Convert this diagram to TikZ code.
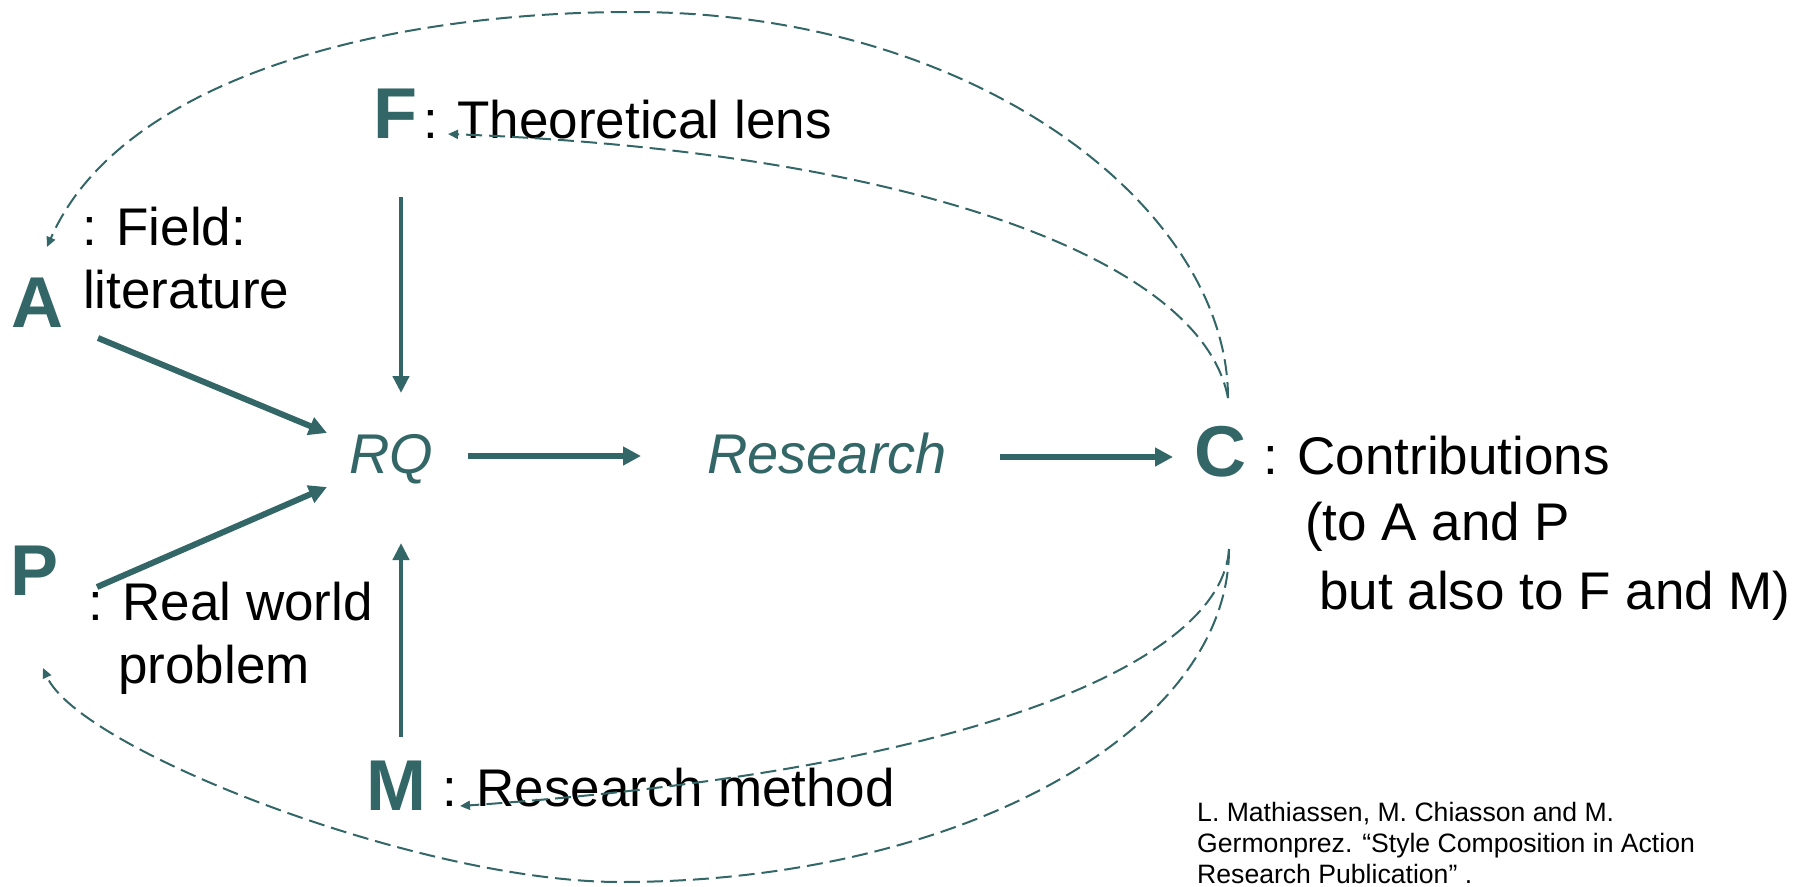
\documentclass[tikz,border=0pt]{standalone}
\usepackage{fontspec}
\setmainfont{Liberation Sans}
\usetikzlibrary{arrows.meta}
\definecolor{deepteal}{RGB}{51,102,102}
\begin{document}
\begin{tikzpicture}[x=1pt,y=-1pt,
  lbl/.style={anchor=base west,inner sep=0pt,font=\fontsize{53}{63}\selectfont,text=black},
  key/.style={anchor=base west,inner sep=0pt,font=\fontsize{72}{72}\selectfont\bfseries,text=deepteal},
  stage/.style={anchor=base west,inner sep=0pt,font=\fontsize{56}{60}\selectfont\itshape,text=deepteal},
  cite/.style={anchor=base west,inner sep=0pt,font=\fontsize{26.6}{31}\selectfont,text=black},
  flow/.style={draw=deepteal,line width=6pt,-{Triangle[length=18pt,width=18pt]}},
  feed/.style={draw=deepteal,line width=4.5pt,-{Triangle[length=17pt,width=16pt]}},
  back/.style={draw=deepteal,line width=2pt,dash pattern=on 16pt off 7pt,-{Triangle[length=10pt,width=9pt]}},
]
\useasboundingbox (0,0) rectangle (1801,886);

% key letters and their labels
\node[key] (F) at (373,138) {F};
\node[lbl] (Ft) at (423,138) {: Theoretical lens};
\node[key] (A) at (11,327) {A};
\node[lbl] (At1) at (82,245) {: Field:};
\node[lbl] (At2) at (83,308) {literature};
\node[key] (P) at (10,595) {P};
\node[lbl] (Pt1) at (88,620) {: Real world};
\node[lbl] (Pt2) at (118,683) {problem};
\node[key] (M) at (366,810) {M};
\node[lbl] (Mt) at (442,806) {: Research method};
\node[key] (C) at (1194,476) {C};
\node[lbl] (Ct1) at (1263,474) {: Contributions};
\node[lbl] (Ct2) at (1305,540) {(to A and P};
\node[lbl] (Ct3) at (1319,609) {but also to F and M)};

% central stages
\node[stage] (RQ) at (349,473) {RQ};
\node[stage] (R) at (707,473) {Research};

% citation
\node[cite] (ref1) at (1197,821) {L. Mathiassen, M. Chiasson and M.};
\node[cite] (ref2) at (1197,852) {Germonprez. “Style Composition in Action};
\node[cite] (ref3) at (1197,883) {Research Publication” .};

% connector ports
\coordinate (aOut) at (98,338);   \coordinate (rqA) at (327,433);
\coordinate (pOut) at (97,587);   \coordinate (rqP) at (327,487);
\coordinate (fOut) at (401,197);  \coordinate (rqF) at (401,393);
\coordinate (mOut) at (401,737);  \coordinate (rqM) at (401,543);
\coordinate (rqOut) at (468,456); \coordinate (resIn) at (641,456);
\coordinate (resOut) at (1000,457); \coordinate (cIn) at (1173,457);
\coordinate (cTop) at (1228,398); \coordinate (cBot) at (1229,549);
\coordinate (aIn) at (47,247);    \coordinate (fIn) at (448,134);
\coordinate (mIn) at (460,806);   \coordinate (pIn) at (43,668);

% main flow
\draw[flow] (aOut) -- (rqA);
\draw[flow] (pOut) -- (rqP);
\draw[feed] (fOut) -- (rqF);
\draw[feed] (mOut) -- (rqM);
\draw[flow] (rqOut) -- (resIn);
\draw[flow] (resOut) -- (cIn);

% contributions feeding back
\draw[back] (cTop) .. controls (1228,210) and (980,12) .. (632,12)
                   .. controls (380,12) and (120,80) .. (aIn);
\draw[back] (cTop) .. controls (1200,250) and (880,150) .. (fIn);
\draw[back] (cBot) .. controls (1222,660) and (980,770) .. (mIn);
\draw[back] (cBot) .. controls (1229,733) and (956,882) .. (620,882)
                   .. controls (420,882) and (80,750) .. (pIn);
\end{tikzpicture}
\end{document}
